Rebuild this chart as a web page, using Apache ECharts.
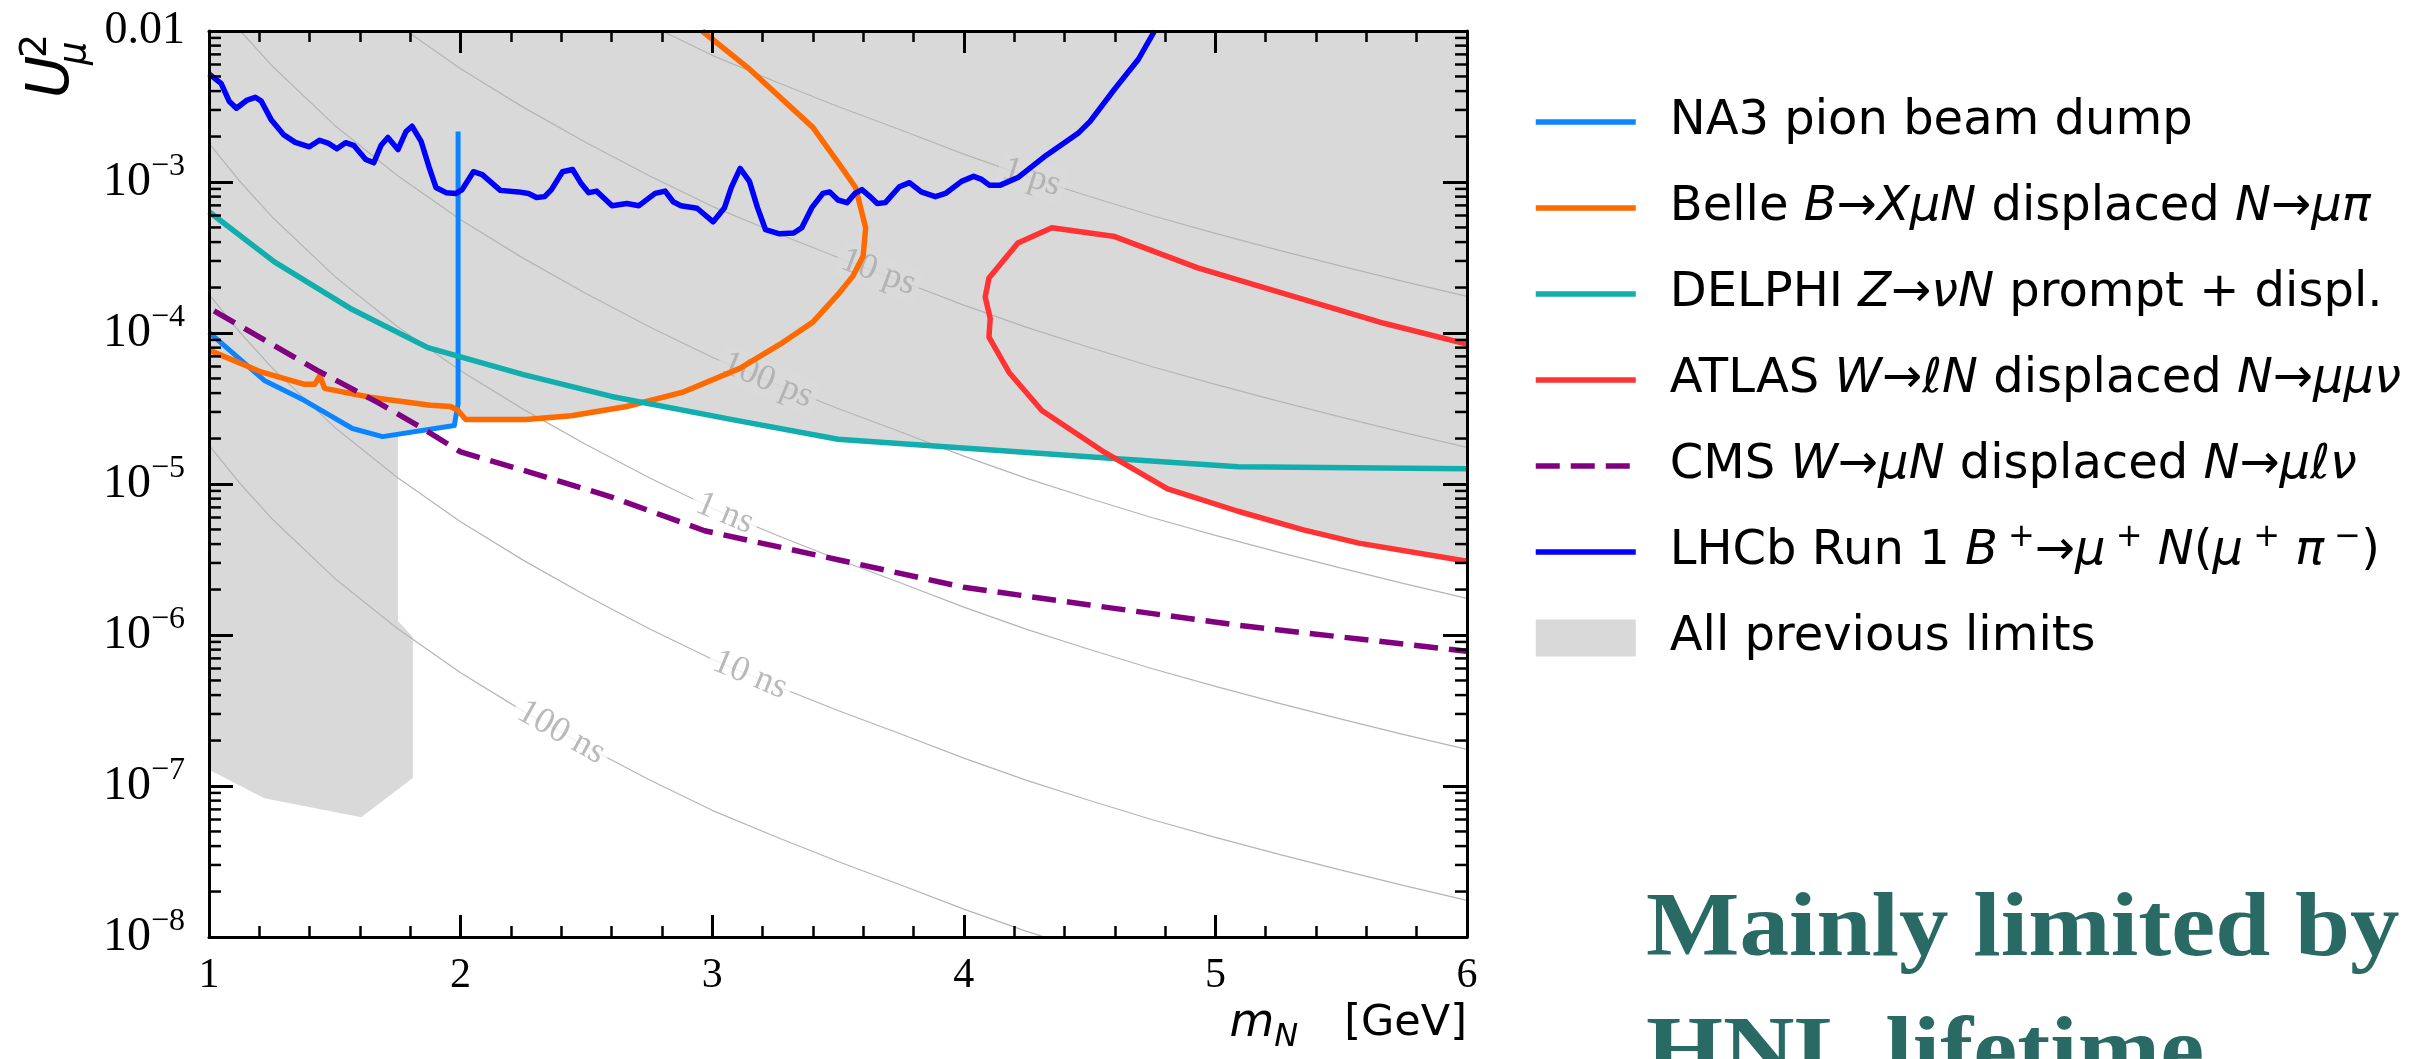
<!DOCTYPE html>
<html><head><meta charset="utf-8">
<script src="https://cdn.jsdelivr.net/npm/echarts@6/dist/echarts.min.js"></script>
<style>html,body{margin:0;padding:0;background:#fff}#c{width:2426px;height:1059px}</style>
</head><body><div id="c"></div>
<script>
// ---------------- data ----------------
const na3 = [[1.0,1.01e-4],[1.22,4.85e-5],[1.38,3.57e-5],[1.57,2.33e-5],[1.69,2.06e-5],[1.975,2.44e-5],[1.99,3.4e-5],[1.99,2.16e-3]];
const belle = [[1.0,7.7e-5],[1.21,5.5e-5],[1.38,4.57e-5],[1.42,4.57e-5],[1.44,5.2e-5],[1.46,4.3e-5],[1.64,3.75e-5],[1.88,3.32e-5],[1.96,3.26e-5],[1.99,3.07e-5],[2.02,2.67e-5],[2.26,2.67e-5],[2.44,2.83e-5],[2.66,3.26e-5],[2.88,4.04e-5],[3.11,5.83e-5],[3.27,8.43e-5],[3.40,1.18e-4],[3.50,1.8e-4],[3.56,2.39e-4],[3.60,3.24e-4],[3.61,4.97e-4],[3.57,9.2e-4],[3.50,1.35e-3],[3.40,2.3e-3],[3.14,5.75e-3],[2.96,1.0e-2]];
const delphi = [[1.0,6.35e-4],[1.26,2.96e-4],[1.56,1.46e-4],[1.87,8.0e-5],[2.25,5.3e-5],[2.6,3.8e-5],[3.08,2.67e-5],[3.5,1.98e-5],[4.61,1.47e-5],[5.09,1.30e-5],[6.0,1.26e-5]];
const atlas = [[6.0,8.43e-5],[5.67,1.16e-4],[5.17,2.05e-4],[4.93,2.70e-4],[4.60,4.35e-4],[4.35,4.98e-4],[4.215,3.94e-4],[4.10,2.31e-4],[4.085,1.73e-4],[4.105,1.25e-4],[4.10,9.4e-5],[4.18,5.48e-5],[4.31,3.07e-5],[4.55,1.66e-5],[4.81,9.3e-6],[5.09,6.6e-6],[5.35,4.97e-6],[5.57,4.06e-6],[6.0,3.08e-6]];
const cms = [[1.02,1.40e-4],[1.43,5.66e-5],[1.67,3.47e-5],[1.85,2.33e-5],[2.0,1.63e-5],[2.28,1.19e-5],[2.6,8.2e-6],[2.97,4.9e-6],[3.5,3.15e-6],[4.0,2.07e-6],[4.5,1.58e-6],[5.09,1.16e-6],[6.0,7.8e-7]];
const lhcb = [[1.0,5.2e-3],[1.048,4.5e-3],[1.08,3.43e-3],[1.109,3.08e-3],[1.152,3.49e-3],[1.184,3.64e-3],[1.208,3.43e-3],[1.248,2.57e-3],[1.296,2.06e-3],[1.343,1.83e-3],[1.399,1.71e-3],[1.439,1.89e-3],[1.476,1.80e-3],[1.508,1.66e-3],[1.543,1.82e-3],[1.575,1.75e-3],[1.623,1.41e-3],[1.655,1.34e-3],[1.684,1.75e-3],[1.711,1.97e-3],[1.751,1.64e-3],[1.783,2.16e-3],[1.807,2.34e-3],[1.843,1.86e-3],[1.875,1.25e-3],[1.902,9.2e-4],[1.942,8.5e-4],[1.982,8.4e-4],[2.006,8.9e-4],[2.051,1.17e-3],[2.086,1.12e-3],[2.158,8.8e-4],[2.23,8.6e-4],[2.27,8.4e-4],[2.302,7.9e-4],[2.334,8.0e-4],[2.361,8.9e-4],[2.405,1.17e-3],[2.445,1.21e-3],[2.477,9.9e-4],[2.509,8.5e-4],[2.541,8.7e-4],[2.602,6.97e-4],[2.661,7.2e-4],[2.709,6.97e-4],[2.773,8.4e-4],[2.813,8.7e-4],[2.845,7.4e-4],[2.876,6.97e-4],[2.94,6.7e-4],[3.004,5.45e-4],[3.049,6.76e-4],[3.076,9.2e-4],[3.111,1.23e-3],[3.148,1.01e-3],[3.18,6.76e-4],[3.212,4.83e-4],[3.268,4.54e-4],[3.324,4.59e-4],[3.356,4.98e-4],[3.396,6.76e-4],[3.44,8.4e-4],[3.467,8.6e-4],[3.50,7.6e-4],[3.536,7.3e-4],[3.568,8.4e-4],[3.595,8.9e-4],[3.624,8.1e-4],[3.656,7.2e-4],[3.688,7.3e-4],[3.744,9.3e-4],[3.784,9.9e-4],[3.831,8.6e-4],[3.887,8.0e-4],[3.927,8.4e-4],[3.991,1.01e-3],[4.039,1.09e-3],[4.071,1.04e-3],[4.103,9.5e-4],[4.143,9.5e-4],[4.215,1.07e-3],[4.327,1.5e-3],[4.454,2.1e-3],[4.502,2.52e-3],[4.598,4.1e-3],[4.694,6.5e-3],[4.758,1.0e-2]];
// lower edge of the "all previous limits" region, closed along the top of the frame
const greyEdge = [[1.0,1.28e-7],[1.22,8.3e-8],[1.605,6.2e-8],[1.81,1.13e-7],[1.81,9.7e-7],[1.751,1.24e-6],[1.751,2.14e-5],[1.975,2.44e-5],[1.99,3.0e-5],[2.02,2.67e-5],[2.26,2.67e-5],[2.44,2.83e-5],[2.66,3.26e-5],[2.735,3.42e-5],[3.08,2.67e-5],[3.5,1.98e-5],[4.61,1.46e-5],[4.81,9.3e-6],[5.09,6.6e-6],[5.35,4.97e-6],[5.57,4.06e-6],[6.0,3.08e-6],[6.0,1e-2],[1.0,1e-2]];
// lifetime contours
const contourMass = [1,1.125,1.25,1.5,1.75,2,2.25,2.5,2.75,3,3.25,3.5,3.75,4,4.25,4.5,4.75,5,5.25,5.5,5.75,6];
const tau1ps   = [1.80,1.00,0.589,0.237,0.110,0.0562,0.0312,0.0182,0.0110,6.90e-3,4.63e-3,3.16e-3,2.21e-3,1.53e-3,1.09e-3,8.02e-4,5.98e-4,4.57e-4,3.54e-4,2.77e-4,2.19e-4,1.75e-4];
const tau10ps  = [0.180,0.100,0.0589,0.0237,0.0110,5.62e-3,3.12e-3,1.82e-3,1.10e-3,6.90e-4,4.63e-4,3.16e-4,2.21e-4,1.53e-4,1.09e-4,8.02e-5,5.98e-5,4.57e-5,3.54e-5,2.77e-5,2.19e-5,1.75e-5];
const tau100ps = [1.80e-2,1.00e-2,5.89e-3,2.37e-3,1.10e-3,5.62e-4,3.12e-4,1.82e-4,1.10e-4,6.90e-5,4.63e-5,3.16e-5,2.21e-5,1.53e-5,1.09e-5,8.02e-6,5.98e-6,4.57e-6,3.54e-6,2.77e-6,2.19e-6,1.75e-6];
const tau1ns   = [1.80e-3,1.00e-3,5.89e-4,2.37e-4,1.10e-4,5.62e-5,3.12e-5,1.82e-5,1.10e-5,6.90e-6,4.63e-6,3.16e-6,2.21e-6,1.53e-6,1.09e-6,8.02e-7,5.98e-7,4.57e-7,3.54e-7,2.77e-7,2.19e-7,1.75e-7];
const tau10ns  = [1.80e-4,1.00e-4,5.89e-5,2.37e-5,1.10e-5,5.62e-6,3.12e-6,1.82e-6,1.10e-6,6.90e-7,4.63e-7,3.16e-7,2.21e-7,1.53e-7,1.09e-7,8.02e-8,5.98e-8,4.57e-8,3.54e-8,2.77e-8,2.19e-8,1.75e-8];
const tau100ns = [1.80e-5,1.00e-5,5.89e-6,2.37e-6,1.10e-6,5.62e-7,3.12e-7,1.82e-7,1.10e-7,6.90e-8,4.63e-8,3.16e-8,2.21e-8,1.53e-8,1.09e-8,8.02e-9,5.98e-9,4.57e-9,3.54e-9,2.77e-9,2.19e-9,1.75e-9];
const contourLabelText = ['1 ps','10 ps','100 ps','1 ns','10 ns','100 ns'];
const contourLabelMass = [4.27,3.66,3.22,3.05,3.15,2.4];
const contourLabelU2   = [1.07e-3,2.52e-4,4.86e-5,6.37e-6,5.43e-7,2.26e-7];
const seriesNames = ['NA3 pion beam dump','Belle B→XμN displaced N→μπ','DELPHI Z→νN prompt + displ.','ATLAS W→ℓN displaced N→μμν','CMS W→μN displaced N→μℓν','LHCb Run 1 B⁺→μ⁺N(μ⁺π⁻)','All previous limits'];

// ---------------- chart ----------------
const GREY = '#d9d9d9';
const SERIF = 'Liberation Serif';
const SANS = 'DejaVu Sans';
const chart = echarts.init(document.getElementById('c'), null, {renderer:'canvas', width:2426, height:1059});

const contourSets = [tau1ps,tau10ps,tau100ps,tau1ns,tau10ns,tau100ns];
const contourSeries = contourSets.map((arr,k)=>({
  type:'line', name:'tau'+k, z:2, silent:true, symbol:'none',
  data: contourMass.map((m,i)=>[m,arr[i]]),
  lineStyle:{color:'#b5b5b5', width:1.2}
}));

function dataLine(name, data, color, width, dash){
  return {type:'line', name, z:5, silent:true, symbol:'none', showSymbol:false, data,
    lineStyle:{color, width, type: dash || 'solid', cap:'butt', join:'round'}, itemStyle:{color}};
}

const yMinor = [];
for (let e=-8; e<=-3; e++) for (let m=2; m<=9; m++) yMinor.push(m*Math.pow(10,e));

const legendRich = {
  'NA3 pion beam dump':'{r|NA3 pion beam dump}',
  'Belle B→XμN displaced N→μπ':'{r|Belle }{i|B}{r|→}{i|XμN}{r| displaced }{i|N}{r|→}{i|μπ}',
  'DELPHI Z→νN prompt + displ.':'{r|DELPHI }{i|Z}{r|→}{i|νN}{r| prompt + displ.}',
  'ATLAS W→ℓN displaced N→μμν':'{r|ATLAS }{i|W}{r|→}{i|ℓN}{r| displaced }{i|N}{r|→}{i|μμν}',
  'CMS W→μN displaced N→μℓν':'{r|CMS }{i|W}{r|→}{i|μN}{r| displaced }{i|N}{r|→}{i|μℓν}',
  'LHCb Run 1 B⁺→μ⁺N(μ⁺π⁻)':'{r|LHCb Run 1 }{i|B}{s| +}{r|→}{i|μ}{s| +}{i| N}{r|(}{i|μ}{s| +}{i| π}{s| −}{r|)}',
  'All previous limits':'{r|All previous limits}'
};

const axisCommon = {
  axisLine:{show:true, onZero:false, lineStyle:{color:'#000', width:3}},
  splitLine:{show:false}, minorSplitLine:{show:false}
};

function labelItems(rot){
  return contourLabelText.map((t,i)=>({
    value:[contourLabelMass[i], contourLabelU2[i]],
    label:{formatter:t, rotate: rot ? rot[i] : 0, backgroundColor: i<3 ? GREY : '#ffffff'}
  }));
}

const option = {
  animation:false,
  backgroundColor:'#ffffff',
  grid:{left:209, top:31, width:1258, height:906},
  xAxis:[
    Object.assign({type:'value', min:1, max:6, interval:1, position:'bottom', z:10,
      axisTick:{show:true, inside:true, length:22, lineStyle:{color:'#000', width:3}},
      minorTick:{show:true, splitNumber:5, length:11, lineStyle:{color:'#000', width:2.5}},
      axisLabel:{fontFamily:SERIF, fontSize:42, color:'#000', margin:18, showMinLabel:true, showMaxLabel:true}}, axisCommon),
    Object.assign({type:'value', min:1, max:6, interval:1, position:'top', z:10,
      axisTick:{show:true, inside:true, length:22, lineStyle:{color:'#000', width:3}},
      minorTick:{show:true, splitNumber:5, length:11, lineStyle:{color:'#000', width:2.5}},
      axisLabel:{show:false}}, axisCommon)
  ],
  yAxis:[
    Object.assign({type:'log', logBase:10, min:1e-8, max:1e-2, position:'left', z:10,
      axisTick:{show:true, inside:true, length:24, lineStyle:{color:'#000', width:3}},
      axisLabel:{margin:24, showMinLabel:true, showMaxLabel:true, color:'#000',
        formatter:(v)=>{ const e=Math.round(Math.log10(v)); return e===-2 ? '{n|0.01}' : '{b|10}{s|−'+(-e)+'}'; },
        rich:{
          n:{fontFamily:SERIF, fontSize:46, color:'#000'},
          b:{fontFamily:SERIF, fontSize:48, lineHeight:62, color:'#000'},
          s:{fontFamily:SERIF, fontSize:32, lineHeight:30, verticalAlign:'top', color:'#000'}
        }}}, axisCommon),
    Object.assign({type:'log', logBase:10, min:1e-8, max:1e-2, position:'right', z:10,
      axisTick:{show:true, inside:true, length:24, lineStyle:{color:'#000', width:3}},
      axisLabel:{show:false}}, axisCommon)
  ],
  legend:{
    orient:'vertical', left:1533, top:92, padding:0,
    itemWidth:100, itemHeight:37, itemGap:26, selectedMode:false,
    itemStyle:{opacity:0},
    lineStyle:{width:5.5},
    data:[seriesNames[0],seriesNames[1],seriesNames[2],seriesNames[3],seriesNames[4],seriesNames[5],
      {name:seriesNames[6], icon:'rect', itemStyle:{opacity:1, color:GREY}}],
    formatter:(n)=>legendRich[n],
    textStyle:{fontFamily:SANS, fontSize:48, color:'#000', lineHeight:60, padding:[0,0,0,29],
      rich:{
        r:{fontFamily:SANS, fontSize:48, lineHeight:60, color:'#000'},
        i:{fontFamily:SANS, fontSize:48, lineHeight:60, fontStyle:'italic', color:'#000'},
        s:{fontFamily:SANS, fontSize:32, lineHeight:32, verticalAlign:'top', color:'#000'}
      }}
  },
  series:[
    {type:'custom', name:seriesNames[6], z:1, silent:true, itemStyle:{color:GREY},
      data:[[1,1e-3]],
      renderItem:(p,api)=>({type:'polygon', shape:{points: greyEdge.map(d=>api.coord(d))}, style:{fill:GREY}})},
    ...contourSeries,
    {type:'scatter', id:'clabels', name:'contour labels', z:3, silent:true, symbolSize:1,
      itemStyle:{color:'rgba(0,0,0,0)'},
      label:{show:true, position:'inside', fontFamily:SERIF, fontSize:36, color:'#a9a9a9', padding:[0,5]},
      data: labelItems(null)},
    dataLine(seriesNames[0], na3, '#0a84ff', 5),
    dataLine(seriesNames[1], belle, '#ff6a00', 5.5),
    dataLine(seriesNames[2], delphi, '#12adad', 5.5),
    dataLine(seriesNames[3], atlas, '#ff3333', 5.5),
    dataLine(seriesNames[4], cms, '#800080', 5.5, [24,11]),
    dataLine(seriesNames[5], lhcb, '#0000ff', 5.5),
    {type:'custom', name:'minor y ticks', z:10, silent:true,
      data: yMinor.map(v=>[1,v]),
      renderItem:(p,api)=>{ const v=api.value(1); const L=api.coord([1,v]); const R=api.coord([6,v]);
        return {type:'group', children:[
          {type:'line', shape:{x1:L[0], y1:L[1], x2:L[0]+12, y2:L[1]}, style:{stroke:'#000', lineWidth:2.5}},
          {type:'line', shape:{x1:R[0]-12, y1:R[1], x2:R[0], y2:R[1]}, style:{stroke:'#000', lineWidth:2.5}}
        ]}; }}
  ],
  graphic:[
    {type:'group', x:71, y:98, rotation:Math.PI/2, silent:true, children:[
      {type:'text', x:0, y:-18, style:{text:'U', fontFamily:SANS, fontStyle:'italic', fontSize:58, fill:'#000', align:'left', verticalAlign:'middle'}},
      {type:'text', x:40, y:-35, style:{text:'2', fontFamily:SANS, fontSize:38, fill:'#000', align:'left', verticalAlign:'middle'}},
      {type:'text', x:33, y:4, style:{text:'μ', fontFamily:SANS, fontStyle:'italic', fontSize:37, fill:'#000', align:'left', verticalAlign:'middle'}}
    ]},
    {type:'text', x:1467, y:1024, silent:true, style:{text:'{m|m}{n|N}{g|[GeV]}', align:'right', verticalAlign:'middle', fill:'#000',
      rich:{
        m:{fontFamily:SANS, fontStyle:'italic', fontSize:46, lineHeight:60, fill:'#000'},
        n:{fontFamily:SANS, fontStyle:'italic', fontSize:32, lineHeight:32, verticalAlign:'bottom', fill:'#000'},
        g:{fontFamily:SANS, fontSize:43, lineHeight:60, fill:'#000', padding:[0,0,0,46]}
      }}},
    {type:'text', x:1646, y:870, scaleX:1.1, silent:true, style:{text:'Mainly limited by\nHNL lifetime', fontFamily:SERIF, fontWeight:'bold', fontSize:90, lineHeight:124, fill:'#2a6a65', align:'left', verticalAlign:'top'}}
  ]
};
chart.setOption(option);

// label rotation following the local slope of each contour on screen
const rot = contourLabelMass.map((x,i)=>{
  const arr = contourSets[i];
  let j = 0; while (j < contourMass.length-2 && contourMass[j+1] <= x) j++;
  const p1 = chart.convertToPixel({xAxisIndex:0, yAxisIndex:0}, [contourMass[j], arr[j]]);
  const p2 = chart.convertToPixel({xAxisIndex:0, yAxisIndex:0}, [contourMass[j+1], arr[j+1]]);
  return -Math.atan2(p2[1]-p1[1], p2[0]-p1[0]) * 180 / Math.PI;
});
chart.setOption({series:[{id:'clabels', data: labelItems(rot)}]});
</script>
</body></html>
